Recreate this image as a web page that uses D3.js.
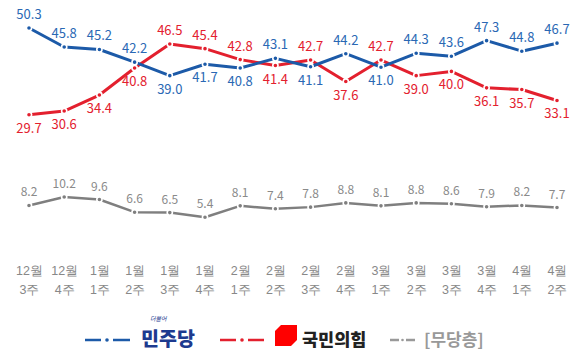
<!DOCTYPE html>
<html>
<head>
<meta charset="utf-8">
<script src="https://cdn.jsdelivr.net/npm/d3@7"></script>
<style>
  body { margin: 0; background: #fff; }
  svg { display: block; font-family: 'Noto Sans CJK KR', 'Noto Sans', sans-serif; }
</style>
</head>
<body>
<svg></svg>
<script>
const w = 580
const h = 352

// data
const weeks = ['12월 3주', '12월 4주', '1월 1주', '1월 2주', '1월 3주', '1월 4주', '2월 1주', '2월 2주',
  '2월 3주', '2월 4주', '3월 1주', '3월 2주', '3월 3주', '3월 4주', '4월 1주', '4월 2주']
const minjoo = [50.3, 45.8, 45.2, 42.2, 39.0, 41.7, 40.8, 43.1, 41.1, 44.2, 41.0, 44.3, 43.6, 47.3, 44.8, 46.7]
const ppp = [29.7, 30.6, 34.4, 40.8, 46.5, 45.4, 42.8, 41.4, 42.7, 37.6, 42.7, 39.0, 40.0, 36.1, 35.7, 33.1]
const none = [8.2, 10.2, 9.6, 6.6, 6.5, 5.4, 8.1, 7.4, 7.8, 8.8, 8.1, 8.8, 8.6, 7.9, 8.2, 7.7]

const BLUE = '#1c5aa8', RED = '#e3202e', GRAY = '#7f7f7f'

const svg = d3.select('svg').attr('width', w).attr('height', h)

const x = d3.scalePoint().domain(weeks).range([29, 557])
const y = d3.scaleLinear().domain([0, 50.3]).range([240, 28])

const series = [
  {key: 'gray', vals: none, color: GRAY, label: '#8a8a8a', width: 2.5},
  {key: 'red', vals: ppp, color: RED, label: '#e3202e', width: 3},
  {key: 'blue', vals: minjoo, color: BLUE, label: '#2a68b4', width: 3}
]

const line = d3.line().x((d, i) => x(weeks[i])).y(d => y(d))

series.forEach(s => {
  const g = svg.append('g')
  g.append('path').datum(s.vals)
    .attr('d', line)
    .attr('fill', 'none')
    .attr('stroke', s.color)
    .attr('stroke-width', s.width)
    .attr('stroke-linejoin', 'round')

  g.selectAll('circle').data(s.vals)
    .enter().append('circle')
    .attr('cx', (d, i) => x(weeks[i]))
    .attr('cy', d => y(d))
    .attr('r', 2.6)
    .attr('fill', s.color)
    .attr('stroke', '#fff')
    .attr('stroke-width', 1.6)
})

// labels: higher of blue/red goes above, lower goes below
const above = (s, i) => {
  if (s.key === 'gray') return true
  if (s.key === 'blue') return minjoo[i] >= ppp[i]
  return ppp[i] > minjoo[i]
}

series.forEach(s => {
  svg.append('g').selectAll('text').data(s.vals)
    .enter().append('text')
    .attr('x', (d, i) => x(weeks[i]))
    .attr('y', (d, i) => y(d) + (above(s, i) ? -9 : 18))
    .attr('text-anchor', 'middle')
    .attr('font-size', s.key === 'gray' ? 12 : 13)
    .attr('fill', s.label)
    .text(d => d.toFixed(1))
})

// x axis
const xAxisG = svg.append('g')
  .attr('transform', 'translate(0, 258)')
  .call(d3.axisBottom(x).tickSize(0).tickFormat(''))
xAxisG.select('.domain').remove()
xAxisG.selectAll('.tick').append('text')
  .attr('text-anchor', 'middle')
  .attr('fill', '#888')
  .attr('font-size', 12.5)
  .each(function (d) {
    const parts = d.split(' ')
    const t = d3.select(this)
    t.append('tspan').attr('x', 0).attr('y', 17).text(parts[0])
    t.append('tspan').attr('x', 0).attr('y', 36).text(parts[1])
  })

// legend
const lg = svg.append('g')
const ly = 340
lg.append('line').attr('x1', 85).attr('x2', 101).attr('y1', ly).attr('y2', ly).attr('stroke', BLUE).attr('stroke-width', 2.5)
lg.append('line').attr('x1', 113).attr('x2', 130).attr('y1', ly).attr('y2', ly).attr('stroke', BLUE).attr('stroke-width', 2.5)
lg.append('circle').attr('cx', 107).attr('cy', ly).attr('r', 1.8).attr('fill', BLUE)
lg.append('text').attr('x', 141).attr('y', ly + 6).attr('font-size', 19.5).attr('font-weight', 900)
  .attr('fill', '#1d3a8f').text('민주당')
lg.append('text').attr('x', 150).attr('y', 321).attr('font-size', 6).attr('font-style', 'italic')
  .attr('fill', '#1d3a8f').text('더불어')

lg.append('line').attr('x1', 220).attr('x2', 236).attr('y1', ly).attr('y2', ly).attr('stroke', RED).attr('stroke-width', 2.5)
lg.append('line').attr('x1', 248).attr('x2', 264).attr('y1', ly).attr('y2', ly).attr('stroke', RED).attr('stroke-width', 2.5)
lg.append('circle').attr('cx', 242).attr('cy', ly).attr('r', 1.8).attr('fill', RED)
lg.append('path').attr('d', 'M281,325 L297,325 L297,340 L291,346 L275,346 L275,331 Z').attr('fill', '#f00')
lg.append('text').attr('x', 302).attr('y', ly + 6).attr('font-size', 17.5).attr('font-weight', 900)
  .attr('fill', '#222').text('국민의힘')

lg.append('line').attr('x1', 390).attr('x2', 399).attr('y1', ly).attr('y2', ly).attr('stroke', '#999').attr('stroke-width', 2.5)
lg.append('line').attr('x1', 406).attr('x2', 415).attr('y1', ly).attr('y2', ly).attr('stroke', '#999').attr('stroke-width', 2.5)
lg.append('circle').attr('cx', 402.5).attr('cy', ly).attr('r', 1.3).attr('fill', '#999')
lg.append('text').attr('x', 424).attr('y', ly + 6).attr('font-size', 17).attr('font-weight', 700)
  .attr('fill', '#999').text('[무당층]')
</script>
</body>
</html>
